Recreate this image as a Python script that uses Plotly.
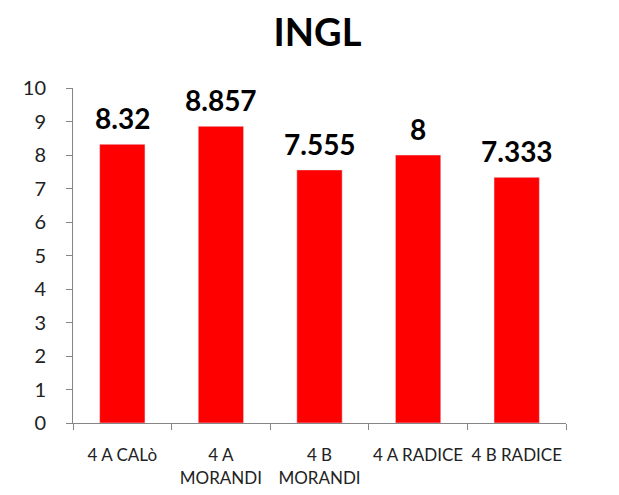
import plotly.graph_objects as go

classes = ['4 A CALò', '4 A<br>MORANDI', '4 B<br>MORANDI', '4 A RADICE', '4 B RADICE']
scores = [8.32, 8.857, 7.555, 8, 7.333]
score_labels = ['8.32', '8.857', '7.555', '8', '7.333']

FONT = 'Lato'
AXIS_GREY = '#868686'

fig = go.Figure()
fig.add_trace(go.Bar(x=classes, y=scores, marker_color='#ff0000', width=0.46))

# value labels above the bars
for c, v, t in zip(classes, scores, score_labels):
    fig.add_annotation(x=c, y=v, text='<b>%s</b>' % t, showarrow=False,
                       yanchor='bottom', yshift=7,
                       font=dict(family=FONT, size=28, color='black'))

# page body adds 8px offset, so margins are shifted by that
fig.update_layout(
    title=dict(text='<b>INGL</b>', x=0.5, xanchor='center', y=0.95, yanchor='middle',
               font=dict(family=FONT, size=38, color='black')),
    width=619, height=495,
    margin=dict(l=65, r=61, t=80, b=80),
    plot_bgcolor='white', paper_bgcolor='white',
    showlegend=False, bargap=0.54,
    font=dict(family=FONT, size=17, color='#222222'),
)
fig.update_xaxes(showline=True, linecolor=AXIS_GREY, linewidth=1,
                 ticks='outside', tickson='boundaries', ticklen=6, tickcolor=AXIS_GREY,
                 tickfont=dict(size=17), tickangle=0, ticklabelstandoff=17,
                 showgrid=False, automargin=False)
fig.update_yaxes(range=[0, 10], dtick=1, showline=True, linecolor=AXIS_GREY, linewidth=1,
                 ticks='outside', ticklen=6, tickcolor=AXIS_GREY,
                 tickfont=dict(size=20), ticklabelstandoff=16, showgrid=False, zeroline=False)

fig.write_html('out.html')
